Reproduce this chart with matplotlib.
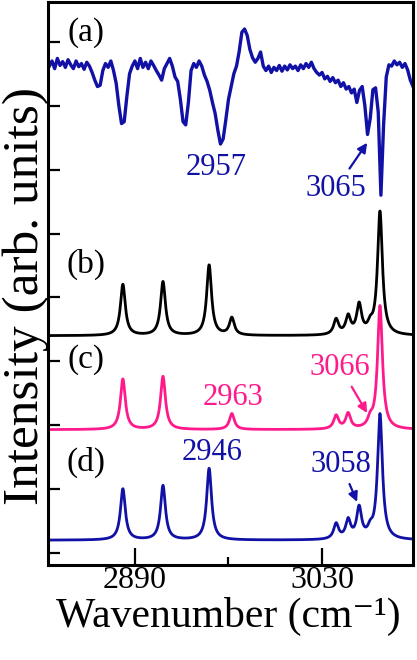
import numpy as np
import matplotlib
matplotlib.use("Agg")
import matplotlib.pyplot as plt
from matplotlib.ticker import FixedLocator

plt.rcParams['font.family'] = ['Liberation Serif', 'DejaVu Serif']

BLUE = '#1111A6'
PINK = '#FF1A8C'

a_wn = np.arange(2826, 3099, 2)
a_int = [7.62, 7.70, 7.58, 7.74, 7.63, 7.69, 7.60, 7.72, 7.64, 7.58,
         7.70, 7.61, 7.66, 7.57, 7.68, 7.62, 7.52, 7.40, 7.30, 7.32,
         7.55, 7.66, 7.60, 7.70, 7.55, 7.35, 7.00, 6.72, 6.75, 7.15,
         7.50, 7.62, 7.70, 7.58, 7.74, 7.60, 7.68, 7.58, 7.70, 7.63,
         7.55, 7.48, 7.40, 7.58, 7.66, 7.74, 7.62, 7.45, 7.38, 7.10,
         6.75, 6.70, 7.05, 7.55, 7.66, 7.60, 7.70, 7.62, 7.48, 7.38,
         7.24, 7.05, 6.88, 6.62, 6.40, 6.48, 6.78, 7.10, 7.30, 7.50,
         7.62, 7.85, 8.15, 8.20, 8.10, 7.88, 7.75, 7.68, 7.74, 7.84,
         7.62, 7.55, 7.62, 7.52, 7.60, 7.55, 7.63, 7.54, 7.62, 7.56,
         7.64, 7.58, 7.62, 7.55, 7.64, 7.58, 7.66, 7.60, 7.68, 7.58,
         7.52, 7.48, 7.52, 7.42, 7.46, 7.38, 7.44, 7.36, 7.40, 7.30,
         7.36, 7.26, 7.30, 7.20, 7.26, 7.05, 7.24, 7.30, 7.00, 6.55,
         6.80, 7.25, 7.28, 6.90, 5.60, 6.70, 7.45, 7.64, 7.62, 7.70,
         7.64, 7.68, 7.60, 7.66, 7.56, 7.40, 7.30]

# ---- (b), (c), (d) computed spectra: peak positions / heights ----
b_pos = [2881, 2911, 2945.5, 2962.5, 3040.5, 3049.5, 3057.7, 3066, 3073.3]
b_amp = [0.80, 0.84, 1.10, 0.27, 0.24, 0.28, 0.46, 0.12, 1.93]
b_offset = 3.40

c_pos = [2881, 2911, 2962.5, 3040.5, 3049.5, 3066, 3073.3]
c_amp = [0.79, 0.83, 0.25, 0.21, 0.24, 0.12, 1.93]
c_offset = 1.93

d_pos = [2881, 2911, 2945.5, 3040.5, 3049.5, 3057.7, 3066, 3073.3]
d_amp = [0.80, 0.85, 1.12, 0.24, 0.29, 0.48, 0.12, 1.96]
d_offset = 0.20

gamma = 2.2

x_major = [2890, 3030]
x_minor = [2960]
x_labels = ['2890', '3030']
y_ticks = list(range(0, 9))


def lorentz_sum(x, pos, amp, g):
    y = np.zeros_like(x)
    for p, a in zip(pos, amp):
        y += a * g**2 / ((x - p)**2 + g**2)
    return y


x = np.linspace(2825, 3098, 3000)

fig = plt.figure(figsize=(4.17, 6.60), dpi=100)
ax = fig.add_axes([48/417, 1-565/660, 365/417, 563/660])

ax.plot(a_wn, a_int, color=BLUE, lw=2.4)
ax.plot(x, b_offset + lorentz_sum(x, b_pos, b_amp, gamma), color='black', lw=2.0)
ax.plot(x, c_offset + lorentz_sum(x, c_pos, c_amp, gamma), color=PINK, lw=2.0)
ax.plot(x, d_offset + lorentz_sum(x, d_pos, d_amp, gamma), color=BLUE, lw=2.0)

ax.set_xlim(2825, 3098)
ax.set_ylim(-0.188, 8.623)

ax.xaxis.set_major_locator(FixedLocator(x_major))
ax.xaxis.set_minor_locator(FixedLocator(x_minor))
ax.set_xticklabels(x_labels)
ax.yaxis.set_major_locator(FixedLocator(y_ticks))
ax.set_yticklabels([])
ax.tick_params(axis='x', which='major', direction='in', length=12, width=1.6,
               labelsize=23, pad=0.5)
ax.tick_params(axis='x', which='minor', direction='in', length=6, width=1.6)
ax.tick_params(axis='y', which='major', direction='in', length=8.5, width=1.6)
for s in ax.spines.values():
    s.set_linewidth(2.2)

ax.set_xlabel('Wavenumber (cm\u207b\u00b9)', fontsize=30)
ax.xaxis.set_label_coords(0.493, -0.092)
ax.xaxis.label.set_va('center')
ax.set_ylabel('Intensity (arb. units)', fontsize=37)
ax.yaxis.set_label_coords(-0.062, 0.478)
ax.yaxis.label.set_va('center')

# panel labels
for lab, yv in [('(a)', 8.14), ('(b)', 4.52), ('(c)', 3.02), ('(d)', 1.42)]:
    ax.text(2853.5, yv, lab, fontsize=24, ha='center', va='center', color='black')

# annotations
ax.text(2950.6, 6.03, '2957', fontsize=22, color=BLUE, ha='center', va='center')
ax.annotate('3065', xy=(3063.7, 6.42), xytext=(3040.5, 5.71), fontsize=22,
            color=BLUE, ha='center', va='center',
            arrowprops=dict(arrowstyle='-|>', color=BLUE, lw=1.6,
                            mutation_scale=14, shrinkA=2, shrinkB=0))
ax.text(2963.4, 2.43, '2963', fontsize=22, color=PINK, ha='center', va='center')
ax.annotate('3066', xy=(3063.7, 2.19), xytext=(3043.5, 2.91), fontsize=22,
            color=PINK, ha='center', va='center',
            arrowprops=dict(arrowstyle='-|>', color=PINK, lw=1.6,
                            mutation_scale=14, shrinkA=2, shrinkB=0))
ax.text(2947.6, 1.565, '2946', fontsize=22, color=BLUE, ha='center', va='center')
ax.annotate('3058', xy=(3056.2, 0.80), xytext=(3044.2, 1.39), fontsize=22,
            color=BLUE, ha='center', va='center',
            arrowprops=dict(arrowstyle='-|>', color=BLUE, lw=1.6,
                            mutation_scale=14, shrinkA=2, shrinkB=0))

fig.savefig('out.png', dpi=100)
